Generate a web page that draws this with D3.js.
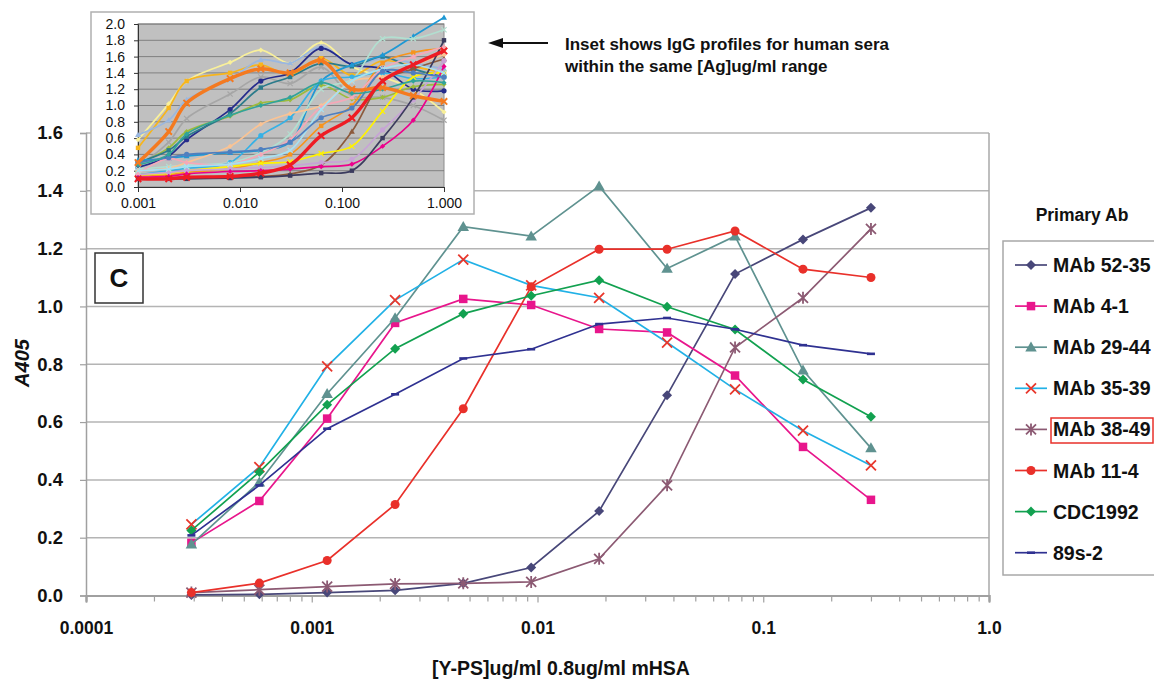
<!DOCTYPE html>
<html>
<head>
<meta charset="utf-8">
<script src="https://cdnjs.cloudflare.com/ajax/libs/d3/7.8.5/d3.min.js"></script>
<style>
body { margin: 0; background: #fff; }
svg { font-family: "Liberation Sans", Arial, sans-serif; }
</style>
</head>
<body>
<div id="chart"></div>
<script>
// main chart: two-fold dilutions of Y-PS (ug/ml)
var concentrations = [0.000293, 0.000586, 0.00117, 0.00234, 0.00469, 0.009375, 0.01875, 0.0375, 0.075, 0.15, 0.3];
var seriesNames = ["MAb 52-35", "MAb 4-1", "MAb 29-44", "MAb 35-39", "MAb 38-49", "MAb 11-4", "CDC1992", "89s-2"];

var mab5235 = [0.002, 0.004, 0.010, 0.018, 0.042, 0.097, 0.292, 0.693, 1.112, 1.232, 1.341];
var mab41 = [0.182, 0.327, 0.612, 0.943, 1.026, 1.005, 0.922, 0.910, 0.761, 0.514, 0.331];
var mab2944 = [0.177, 0.392, 0.698, 0.960, 1.276, 1.243, 1.416, 1.131, 1.243, 0.779, 0.510];
var mab3539 = [0.246, 0.444, 0.793, 1.022, 1.162, 1.073, 1.030, 0.875, 0.713, 0.570, 0.450];
var mab3849 = [0.010, 0.020, 0.031, 0.040, 0.042, 0.047, 0.127, 0.381, 0.858, 1.030, 1.268];
var mab114 = [0.010, 0.043, 0.121, 0.315, 0.646, 1.068, 1.198, 1.198, 1.261, 1.129, 1.100];
var cdc1992 = [0.225, 0.427, 0.660, 0.854, 0.975, 1.037, 1.091, 0.999, 0.920, 0.747, 0.618];
var s892 = [0.208, 0.381, 0.577, 0.696, 0.820, 0.852, 0.939, 0.960, 0.921, 0.866, 0.836];

var yTicks = [0, 0.2, 0.4, 0.6, 0.8, 1.0, 1.2, 1.4, 1.6];
var xTickLabels = ["0.0001", "0.001", "0.01", "0.1", "1.0"];
var xTickValues = [0.0001, 0.001, 0.01, 0.1, 1];

// inset: IgG profiles for human sera
var insetConc = [0.001, 0.002, 0.003, 0.008, 0.016, 0.031, 0.0625, 0.125, 0.25, 0.5, 1.0];
var insetSera = [
    [0.58, 1.02, 1.30, 1.53, 1.68, 1.52, 1.77, 1.48, 1.35, 1.20, 0.92],
    [0.48, 0.97, 1.30, 1.40, 1.50, 1.37, 1.58, 1.37, 1.55, 1.48, 1.40],
    [0.64, 0.82, 1.07, 1.32, 1.56, 1.52, 1.72, 1.50, 1.58, 1.52, 1.45],
    [0.25, 0.55, 0.84, 1.14, 1.35, 1.27, 1.47, 1.12, 1.10, 1.00, 0.82],
    [0.24, 0.38, 0.58, 0.95, 1.30, 1.40, 1.70, 1.50, 1.45, 1.20, 1.18],
    [0.28, 0.48, 0.68, 0.87, 1.03, 1.07, 1.25, 1.08, 1.10, 1.23, 1.26],
    [0.30, 0.45, 0.62, 0.90, 1.22, 1.35, 1.52, 1.48, 1.60, 1.45, 1.35],
    [0.33, 0.35, 0.38, 0.42, 0.45, 0.55, 1.30, 1.50, 1.62, 1.85, 2.08],
    [0.22, 0.25, 0.27, 0.30, 0.42, 0.65, 1.20, 1.32, 1.82, 1.82, 1.93],
    [0.15, 0.20, 0.23, 0.30, 0.63, 0.85, 1.30, 1.35, 1.40, 1.33, 1.35],
    [0.20, 0.23, 0.30, 0.50, 0.77, 0.90, 1.00, 1.30, 1.35, 1.50, 1.62],
    [0.13, 0.15, 0.18, 0.22, 0.30, 0.40, 0.75, 1.00, 1.52, 1.65, 1.70],
    [0.10, 0.11, 0.12, 0.13, 0.13, 0.16, 0.27, 0.68, 1.30, 1.45, 1.57],
    [0.15, 0.17, 0.20, 0.25, 0.29, 0.31, 0.41, 0.50, 0.93, 1.35, 1.40],
    [0.15, 0.18, 0.20, 0.22, 0.24, 0.26, 0.30, 0.34, 0.70, 1.07, 1.55],
    [0.12, 0.13, 0.16, 0.19, 0.20, 0.22, 0.25, 0.28, 0.50, 0.82, 1.48],
    [0.10, 0.10, 0.10, 0.11, 0.12, 0.14, 0.17, 0.20, 0.60, 1.10, 1.80],
    [0.17, 0.35, 0.30, 0.28, 0.40, 0.58, 0.98, 1.10, 1.45, 1.60, 1.72],
    [0.20, 0.22, 0.25, 0.28, 0.35, 0.45, 0.95, 1.30, 1.45, 1.50, 1.40],
    [0.30, 0.36, 0.40, 0.43, 0.46, 0.55, 0.85, 0.97, 1.42, 1.40, 1.35],
    [0.27, 0.40, 0.65, 0.88, 1.00, 1.10, 1.28, 1.15, 1.20, 1.30, 1.28],
    [0.30, 0.68, 1.03, 1.33, 1.45, 1.40, 1.55, 1.20, 1.22, 1.12, 1.05],
    [0.10, 0.10, 0.12, 0.13, 0.17, 0.27, 0.63, 0.85, 1.30, 1.50, 1.67]
];
var insetYTicks = [0, 0.2, 0.4, 0.6, 0.8, 1.0, 1.2, 1.4, 1.6, 1.8, 2.0];
var insetXTicks = [0.001, 0.01, 0.1, 1];
var insetXLabels = ["0.001", "0.010", "0.100", "1.000"];

// styles
var textColor = "#111";
var lineColors = ["#484779", "#e8168c", "#5f9290", "#21b1e6", "#8c5a73", "#e9302a", "#12a150", "#2f3191"];
var markerColors = ["#484779", "#e8168c", "#5f9290", "#e8372c", "#8c5a73", "#e9302a", "#12a150", "#2f3191"];
var markerTypes = ["diamond", "square", "triangle", "x", "asterisk", "circle", "diamond", "dash"];
var insetColors = ["#f9f09a", "#f7b51c", "#9ab7e0", "#a6a6a6", "#262c8c", "#9cbb3c", "#2b7b8b", "#1e98d4",
    "#b2dfd0", "#36b1e5", "#fbc393", "#f7941d", "#8c5a3c", "#fff200", "#c7a3d6", "#ec008c",
    "#3b3b5e", "#f5a8b8", "#a6e1f2", "#4f7fbf", "#31a39a", "#f47a20", "#ee1c24"];
var insetShapes = ["diamond", "square", "triangle", "x", "circle"];

var allSeries = [mab5235, mab41, mab2944, mab3539, mab3849, mab114, cdc1992, s892];

function markerPath(type, r) {
    if (type === "diamond") return `M0,${-r}L${r},0L0,${r}L${-r},0Z`;
    if (type === "square") { var h = r * 0.85; return `M${-h},${-h}h${2 * h}v${2 * h}h${-2 * h}Z`; }
    if (type === "triangle") return `M0,${-r * 1.15}L${r * 1.15},${r * 0.85}L${-r * 1.15},${r * 0.85}Z`;
    if (type === "x") return `M${-r},${-r}L${r},${r}M${-r},${r}L${r},${-r}`;
    if (type === "asterisk") return `M${-r},${-r}L${r},${r}M${-r},${r}L${r},${-r}M0,${-r * 1.2}L0,${r * 1.2}`;
    if (type === "circle") return `M${r},0A${r},${r} 0 1,1 ${-r},0A${r},${r} 0 1,1 ${r},0Z`;
    return `M${-r * 0.8},-1.3h${1.6 * r}v2.6h${-1.6 * r}Z`;
}
function isStroked(type) { return type === "x" || type === "asterisk"; }

var svg = d3.select("#chart").append("svg")
    .attr("width", 1154)
    .attr("height", 683);
svg.append("rect").attr("width", 1154).attr("height", 683).attr("fill", "#fff");

// scales for the main plot
var x = d3.scaleLog().domain([0.0001, 1]).range([86, 989]);
var y = d3.scaleLinear().domain([0, 1.6]).range([595.5, 133]);

// gridlines
svg.append("g")
    .selectAll("line")
    .data(yTicks.slice(1))
    .enter()
    .append("line")
    .attr("x1", 86).attr("x2", 989)
    .attr("y1", d => y(d)).attr("y2", d => y(d))
    .attr("stroke", "#b4b4b4")
    .attr("stroke-width", 1.5);

// right frame
svg.append("line")
    .attr("x1", 989).attr("x2", 989)
    .attr("y1", y(1.6)).attr("y2", y(0))
    .attr("stroke", "#a8a8a8").attr("stroke-width", 1.5);

// y axis
var yAxis = svg.append("g")
    .attr("transform", "translate(86,0)")
    .call(d3.axisLeft(y).tickValues(yTicks).tickSize(6).tickPadding(17).tickFormat(d3.format(".1f")));
yAxis.selectAll("text").attr("font-size", "18.5px").attr("font-weight", "bold").attr("fill", textColor).attr("font-family", null);
yAxis.selectAll("line, path").attr("stroke", "#a0a0a0").attr("stroke-width", 1.5);

// x axis: minor ticks then labelled decades
var minorTicks = [];
[0.0001, 0.001, 0.01, 0.1].forEach(function(dec) {
    for (var k = 2; k <= 9; k++) minorTicks.push(dec * k);
});
var xMinor = svg.append("g")
    .attr("transform", "translate(0,595.5)")
    .call(d3.axisBottom(x).tickValues(minorTicks).tickSize(6).tickFormat(""));
var xAxis = svg.append("g")
    .attr("transform", "translate(0,595.5)")
    .call(d3.axisBottom(x).tickValues(xTickValues).tickSize(7).tickPadding(19)
        .tickFormat((d, i) => xTickLabels[i]));
xAxis.selectAll("text").attr("font-size", "17.5px").attr("font-weight", "bold").attr("fill", textColor).attr("font-family", null);
svg.selectAll(".tick line").attr("stroke", "#a0a0a0").attr("stroke-width", 1.2);
xMinor.select(".domain").attr("stroke", "#a0a0a0").attr("stroke-width", 2);
xAxis.select(".domain").attr("stroke", "#a0a0a0").attr("stroke-width", 2);

// axis titles
svg.append("text")
    .attr("transform", "translate(29,363) rotate(-90)")
    .attr("text-anchor", "middle")
    .attr("font-size", "20px")
    .attr("font-weight", "bold")
    .attr("font-style", "italic")
    .attr("fill", textColor)
    .text("A405");
svg.append("text")
    .attr("x", 561).attr("y", 675)
    .attr("text-anchor", "middle")
    .attr("font-size", "19.5px")
    .attr("font-weight", "bold")
    .attr("fill", textColor)
    .text("[Y-PS]ug/ml 0.8ug/ml mHSA");

// series lines + markers
var line = d3.line()
    .x((d, i) => x(concentrations[i]))
    .y(d => y(d));

allSeries.forEach(function(values, s) {
    var g = svg.append("g");
    g.append("path")
        .attr("d", line(values))
        .attr("fill", "none")
        .attr("stroke", lineColors[s])
        .attr("stroke-width", 1.7);
    g.selectAll("path.mk")
        .data(values)
        .enter()
        .append("path")
        .classed("mk", true)
        .attr("transform", (d, i) => `translate(${x(concentrations[i])},${y(d)})`)
        .attr("d", markerPath(markerTypes[s], markerTypes[s] === "circle" ? 4.5 : 5))
        .attr("fill", isStroked(markerTypes[s]) ? "none" : markerColors[s])
        .attr("stroke", isStroked(markerTypes[s]) ? markerColors[s] : "none")
        .attr("stroke-width", 1.8);
});

// "C" panel label
svg.append("rect")
    .attr("x", 95).attr("y", 253).attr("width", 48).attr("height", 50)
    .attr("fill", "#fff").attr("stroke", "#333").attr("stroke-width", 1.5);
svg.append("text")
    .attr("x", 119).attr("y", 287)
    .attr("text-anchor", "middle")
    .attr("font-size", "26px")
    .attr("font-weight", "bold")
    .attr("fill", textColor)
    .text("C");

// legend
svg.append("text")
    .attr("x", 1082).attr("y", 221)
    .attr("text-anchor", "middle")
    .attr("font-size", "17.5px")
    .attr("font-weight", "bold")
    .attr("fill", textColor)
    .text("Primary Ab");
svg.append("rect")
    .attr("x", 1003).attr("y", 241).attr("width", 170).attr("height", 334)
    .attr("fill", "#fff").attr("stroke", "#a8a8a8").attr("stroke-width", 1.5);

var legend = svg.append("g").selectAll("g")
    .data(seriesNames)
    .enter()
    .append("g")
    .attr("transform", (d, i) => `translate(0,${265 + i * 41.1})`);
legend.append("line")
    .attr("x1", 1015).attr("x2", 1047)
    .attr("stroke", (d, i) => lineColors[i])
    .attr("stroke-width", 1.7);
legend.append("path")
    .attr("transform", "translate(1031,0)")
    .attr("d", (d, i) => markerPath(markerTypes[i], markerTypes[i] === "circle" ? 4.5 : 5))
    .attr("fill", (d, i) => isStroked(markerTypes[i]) ? "none" : markerColors[i])
    .attr("stroke", (d, i) => isStroked(markerTypes[i]) ? markerColors[i] : "none")
    .attr("stroke-width", 1.8);
legend.append("text")
    .attr("x", 1053).attr("y", 7)
    .attr("font-size", "19.5px")
    .attr("font-weight", "bold")
    .attr("fill", textColor)
    .text(d => d);

// red highlight around MAb 38-49
svg.append("rect")
    .attr("x", 1051).attr("y", 418).attr("width", 102).attr("height", 25)
    .attr("fill", "none").attr("stroke", "#e8312a").attr("stroke-width", 1.5);

// ---------- inset ----------
svg.append("rect")
    .attr("x", 91).attr("y", 12).attr("width", 383).attr("height", 202)
    .attr("fill", "#fff").attr("stroke", "#b0b0b0").attr("stroke-width", 1.5);

var ix = d3.scaleLog().domain([0.001, 1]).range([138, 444]);
var iy = d3.scaleLinear().domain([0, 2]).range([187, 24]);

svg.append("rect")
    .attr("x", 138).attr("y", iy(2)).attr("width", 306).attr("height", iy(0) - iy(2))
    .attr("fill", "#c0c0c0").attr("stroke", "#8c8c8c").attr("stroke-width", 1);

svg.append("g")
    .selectAll("line")
    .data(insetYTicks.slice(1))
    .enter()
    .append("line")
    .attr("x1", 138).attr("x2", 444)
    .attr("y1", d => iy(d)).attr("y2", d => iy(d))
    .attr("stroke", "#707070")
    .attr("stroke-width", 0.8);

var iyAxis = svg.append("g")
    .attr("transform", "translate(138,0)")
    .call(d3.axisLeft(iy).tickValues(insetYTicks).tickSize(4).tickPadding(9).tickFormat(d3.format(".1f")));
var ixAxis = svg.append("g")
    .attr("transform", "translate(0,187)")
    .call(d3.axisBottom(ix).tickValues(insetXTicks).tickSize(5).tickPadding(6)
        .tickFormat((d, i) => insetXLabels[i]));
[iyAxis, ixAxis].forEach(function(a) {
    a.selectAll("text").attr("font-size", "14px").attr("fill", textColor).attr("font-family", null);
    a.selectAll("line, path").attr("stroke", "#333").attr("stroke-width", 1);
});

var iline = d3.line()
    .x((d, i) => ix(insetConc[i]))
    .y(d => iy(d))
    .curve(d3.curveCatmullRom);

insetSera.forEach(function(values, s) {
    var thick = s >= insetSera.length - 2;
    var g = svg.append("g");
    g.append("path")
        .attr("d", iline(values))
        .attr("fill", "none")
        .attr("stroke", insetColors[s])
        .attr("stroke-width", thick ? 3.4 : 1.7);
    var shape = thick ? "x" : insetShapes[s % insetShapes.length];
    g.selectAll("path.mk")
        .data(values)
        .enter()
        .append("path")
        .classed("mk", true)
        .attr("transform", (d, i) => `translate(${ix(insetConc[i])},${iy(d)})`)
        .attr("d", markerPath(shape, thick ? 3.2 : 2.6))
        .attr("fill", isStroked(shape) ? "none" : insetColors[s])
        .attr("stroke", isStroked(shape) ? insetColors[s] : "none")
        .attr("stroke-width", thick ? 2 : 1.2);
});

// inset note with arrow
svg.append("path")
    .attr("d", "M488,43L503,38L503,48Z")
    .attr("fill", textColor);
svg.append("line")
    .attr("x1", 500).attr("x2", 548)
    .attr("y1", 43).attr("y2", 43)
    .attr("stroke", textColor).attr("stroke-width", 2);
svg.append("text")
    .attr("x", 565).attr("y", 49.5)
    .attr("font-size", "17px")
    .attr("font-weight", "bold")
    .attr("fill", textColor)
    .text("Inset shows IgG profiles for human sera");
svg.append("text")
    .attr("x", 565).attr("y", 72)
    .attr("font-size", "17px")
    .attr("font-weight", "bold")
    .attr("fill", textColor)
    .text("within the same [Ag]ug/ml range");
</script>
</body>
</html>
